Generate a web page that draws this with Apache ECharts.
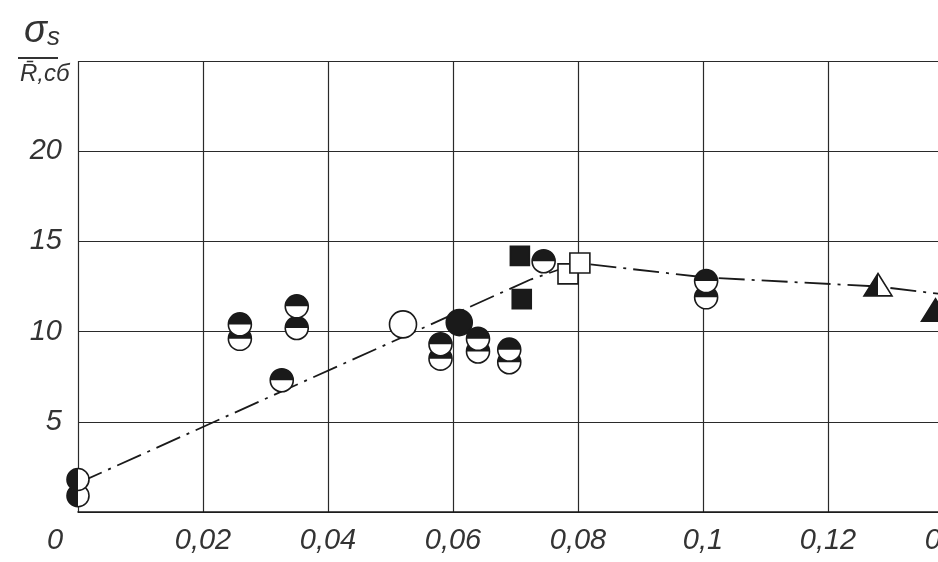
<!DOCTYPE html>
<html><head><meta charset="utf-8">
<script src="https://cdn.jsdelivr.net/npm/echarts@6/dist/echarts.min.js"></script>
<style>html,body{margin:0;padding:0;background:#fff}#c{width:938px;height:562px}</style>
</head><body><div id="c"></div>
<script>
// x tick labels / axis
const xTicks = [0, 0.02, 0.04, 0.06, 0.08, 0.1, 0.12, 0.14];
const yTicks = [0, 5, 10, 15, 20, 25];
// markers (x, y)
const halfTopLower = [[0.0259, 9.6], [0.0350, 10.2], [0.0580, 8.5], [0.0640, 8.9], [0.0690, 8.3], [0.1005, 11.9]];
const halfTopUpper = [[0.0259, 10.4], [0.0350, 11.4], [0.0580, 9.3], [0.0640, 9.6], [0.0690, 9.0], [0.1005, 12.8], [0.0326, 7.3], [0.0745, 13.9]];
const halfLeft = [[0.0, 0.9], [0.0, 1.8]];
const openCircle = [[0.0520, 10.4]];
const filledCircle = [[0.0610, 10.5]];
const filledSquare = [[0.0707, 14.2], [0.0710, 11.8]];
const openSquare = [[0.0784, 13.2], [0.0803, 13.8]];
const halfTriangle = [[0.1280, 12.6]];
const filledTriangle = [[0.1372, 11.2]];
// dash-dot trend line
const trendLine = [[0.0, 1.6], [0.0725, 12.9], [0.0800, 13.8], [0.1005, 13.0], [0.1280, 12.5], [0.1400, 12.0]];

const INK = '#1a1a1a';
function marker(kind, size) {
  return function (params, api) {
    const p = api.coord([api.value(0), api.value(1)]);
    const cx = p[0], cy = p[1], r = size / 2;
    const st = {stroke: INK, lineWidth: 1.6};
    const ch = [];
    if (kind === 'halfTop' || kind === 'halfLeft' || kind === 'open' || kind === 'filled') {
      ch.push({type: 'circle', shape: {cx, cy, r}, style: Object.assign({fill: kind === 'filled' ? INK : '#fff'}, st)});
      if (kind === 'halfTop') ch.push({type: 'sector', shape: {cx, cy, r0: 0, r, startAngle: Math.PI, endAngle: 2 * Math.PI}, style: {fill: INK}});
      if (kind === 'halfLeft') ch.push({type: 'sector', shape: {cx, cy, r0: 0, r, startAngle: Math.PI / 2, endAngle: 1.5 * Math.PI}, style: {fill: INK}});
    } else if (kind === 'sqOpen' || kind === 'sqFilled') {
      ch.push({type: 'rect', shape: {x: cx - r, y: cy - r, width: size, height: size}, style: Object.assign({fill: kind === 'sqFilled' ? INK : '#fff'}, st)});
    } else if (kind === 'triHalf' || kind === 'triFilled') {
      const h = size * 0.8;
      const pts = [[cx, cy - h / 2], [cx + r, cy + h / 2], [cx - r, cy + h / 2]];
      ch.push({type: 'polygon', shape: {points: pts}, style: Object.assign({fill: kind === 'triFilled' ? INK : '#fff'}, st)});
      if (kind === 'triHalf') ch.push({type: 'polygon', shape: {points: [[cx, cy - h / 2], [cx, cy + h / 2], [cx - r, cy + h / 2]]}, style: {fill: INK}});
    }
    return {type: 'group', children: ch};
  };
}
function mk(data, kind, size, z) {
  return {type: 'custom', data: data, encode: {x: 0, y: 1}, renderItem: marker(kind, size), z: z, clip: false};
}

const font = "'Liberation Sans', 'DejaVu Sans', sans-serif";
const chart = echarts.init(document.getElementById('c'), null, {renderer: 'canvas'});
chart.setOption({
  backgroundColor: '#fff',
  animation: false,
  grid: {left: 78, right: -15, top: 61, bottom: 50, outerBoundsMode: 'none', containLabel: false},
  xAxis: {
    type: 'value', min: xTicks[0], max: xTicks[xTicks.length - 1], interval: 0.02,
    axisLine: {show: true, lineStyle: {color: INK, width: 1.6}},
    axisTick: {show: false},
    splitLine: {show: true, lineStyle: {color: '#2a2a2a', width: 1.2}},
    axisLabel: {
      margin: 14, fontFamily: font, fontStyle: 'italic', fontSize: 29, color: '#333', hideOverlap: false,
      formatter: function (v) {
        const s = String(+v.toFixed(2)).replace('.', ',');
        return v === 0 ? '{z|0}' : s;
      },
      rich: {z: {fontFamily: font, fontStyle: 'italic', fontSize: 29, color: '#333', padding: [0, 46, 0, 0]}}
    }
  },
  yAxis: {
    type: 'value', min: yTicks[0], max: yTicks[yTicks.length - 1], interval: 5,
    axisLine: {show: false},
    axisTick: {show: false},
    splitLine: {show: true, lineStyle: {color: '#2a2a2a', width: 1.2}},
    axisLabel: {
      margin: 16, fontFamily: font, fontStyle: 'italic', fontSize: 29, color: '#333',
      formatter: function (v) { return (v === 0 || v === 25) ? '' : String(v); }
    }
  },
  graphic: [
    {type: 'text', left: 24, top: 12, style: {text: '{a|σ}{b|s}', rich: {a: {fontSize: 38, fontFamily: font, fontStyle: 'italic', fill: '#333'}, b: {fontSize: 26, fontFamily: font, fontStyle: 'italic', fill: '#333', padding: [14, 0, 0, 0]}}}},
    {type: 'line', shape: {x1: 18, y1: 58, x2: 58, y2: 58}, style: {stroke: '#333', lineWidth: 2}},
    {type: 'text', left: 20, top: 62, style: {text: 'R̄,сб', fontSize: 24, fontFamily: font, fontStyle: 'italic', fill: '#333'}}
  ],
  series: [
    {type: 'line', data: trendLine, symbol: 'none', z: 2,
     lineStyle: {color: INK, width: 1.8, type: [26, 7, 3, 7]}},
    mk(halfTopLower, 'halfTop', 23, 3),
    mk(halfTopUpper, 'halfTop', 23, 4),
    mk(halfLeft, 'halfLeft', 22, 4),
    mk(openCircle, 'open', 27, 4),
    mk(filledCircle, 'filled', 26, 4),
    mk(filledSquare, 'sqFilled', 19, 4),
    mk(openSquare, 'sqOpen', 20, 5),
    mk(halfTriangle, 'triHalf', 28, 4),
    mk(filledTriangle, 'triFilled', 28, 4)
  ]
});
</script></body></html>
